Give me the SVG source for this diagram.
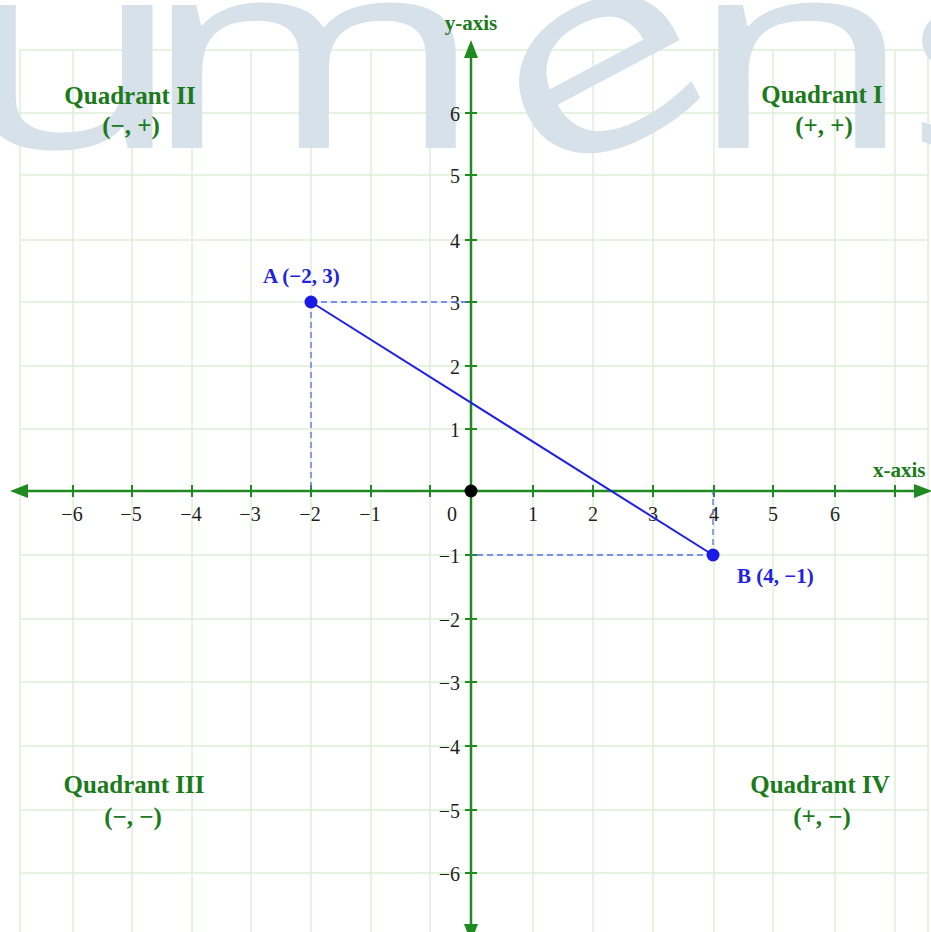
<svg xmlns="http://www.w3.org/2000/svg" width="931" height="932" viewBox="0 0 931 932">
<style>
.grid line{stroke:#dcefd6;stroke-width:1.5}
.wm{font-family:"Open Sans",sans-serif;font-weight:500;font-size:267px;fill:#d6e1ea;text-anchor:middle}
.axis{stroke:#1f8a1f;stroke-width:2.5;fill:none}
.tick{stroke:#1f8a1f;stroke-width:2}
.num{font-family:"Liberation Serif",serif;font-size:20px;fill:#1e1e1e}
.xn{text-anchor:middle}
.yn{text-anchor:end}
.quad{font-family:"Liberation Serif",serif;font-weight:bold;font-size:25px;fill:#1b7a1b;text-anchor:middle}
.axl{font-family:"Liberation Serif",serif;font-weight:bold;font-size:21px;fill:#1b7a1b}
.pt{fill:#1a1ae8}
.plab{font-family:"Liberation Serif",serif;font-weight:bold;font-size:21px;fill:#2222e0}
.seg{stroke:#1f1fe6;stroke-width:2;fill:none}
.dash{stroke:#5b6cf2;stroke-width:1.3;stroke-dasharray:6 4;fill:none}
</style>
<defs>
<marker id="arr" viewBox="0 0 18 14" refX="0" refY="7" markerWidth="18" markerHeight="14" markerUnits="userSpaceOnUse" orient="auto-start-reverse">
<path d="M0,0 L18,7 L0,14 Z" fill="#1f8a1f"/>
</marker>
</defs>
<rect width="931" height="932" fill="#ffffff"/>
<g id="grid" class="grid">
<line x1="20" y1="50" x2="20" y2="932"/>
<line x1="73" y1="50" x2="73" y2="932"/>
<line x1="132" y1="50" x2="132" y2="932"/>
<line x1="192" y1="50" x2="192" y2="932"/>
<line x1="251" y1="50" x2="251" y2="932"/>
<line x1="311" y1="50" x2="311" y2="932"/>
<line x1="371" y1="50" x2="371" y2="932"/>
<line x1="430" y1="50" x2="430" y2="932"/>
<line x1="533" y1="50" x2="533" y2="932"/>
<line x1="593" y1="50" x2="593" y2="932"/>
<line x1="653" y1="50" x2="653" y2="932"/>
<line x1="714" y1="50" x2="714" y2="932"/>
<line x1="773" y1="50" x2="773" y2="932"/>
<line x1="835" y1="50" x2="835" y2="932"/>
<line x1="895" y1="50" x2="895" y2="932"/>
<line x1="928" y1="50" x2="928" y2="932"/>
<line x1="20" y1="50" x2="928" y2="50"/>
<line x1="20" y1="113" x2="928" y2="113"/>
<line x1="20" y1="175" x2="928" y2="175"/>
<line x1="20" y1="240" x2="928" y2="240"/>
<line x1="20" y1="302" x2="928" y2="302"/>
<line x1="20" y1="366" x2="928" y2="366"/>
<line x1="20" y1="429" x2="928" y2="429"/>
<line x1="20" y1="555" x2="928" y2="555"/>
<line x1="20" y1="619" x2="928" y2="619"/>
<line x1="20" y1="682" x2="928" y2="682"/>
<line x1="20" y1="746" x2="928" y2="746"/>
<line x1="20" y1="810" x2="928" y2="810"/>
<line x1="20" y1="873" x2="928" y2="873"/>
</g>
<g id="watermark">
<text class="wm" transform="translate(70,148) scale(1.4,1)">u</text>
<text class="wm" transform="translate(313,148) scale(1.4,1)">m</text>
<text class="wm" transform="translate(602,148) rotate(-28,0,-72) scale(1.4,1)">e</text>
<text class="wm" transform="translate(801,148) scale(1.4,1)">n</text>
<text class="wm" transform="translate(992,148) scale(1.4,1)">s</text>
</g>
<g id="axes">
<line id="x-axis" class="axis" x1="28" y1="491" x2="914" y2="491" marker-start="url(#arr)" marker-end="url(#arr)"/>
<line id="y-axis" class="axis" x1="471" y1="924" x2="471" y2="58" marker-start="url(#arr)" marker-end="url(#arr)"/>
<text class="axl" x="471" y="30" text-anchor="middle">y-axis</text>
<text class="axl" x="873" y="477">x-axis</text>
</g>
<g id="ticks">
<g class="tick">
<line x1="73" y1="485" x2="73" y2="497"/>
<line x1="132" y1="485" x2="132" y2="497"/>
<line x1="192" y1="485" x2="192" y2="497"/>
<line x1="251" y1="485" x2="251" y2="497"/>
<line x1="311" y1="485" x2="311" y2="497"/>
<line x1="371" y1="485" x2="371" y2="497"/>
<line x1="430" y1="485" x2="430" y2="497"/>
<line x1="533" y1="485" x2="533" y2="497"/>
<line x1="593" y1="485" x2="593" y2="497"/>
<line x1="653" y1="485" x2="653" y2="497"/>
<line x1="714" y1="485" x2="714" y2="497"/>
<line x1="773" y1="485" x2="773" y2="497"/>
<line x1="835" y1="485" x2="835" y2="497"/>
<line x1="895" y1="485" x2="895" y2="497"/>
<line x1="465" y1="113" x2="477" y2="113"/>
<line x1="465" y1="175" x2="477" y2="175"/>
<line x1="465" y1="240" x2="477" y2="240"/>
<line x1="465" y1="302" x2="477" y2="302"/>
<line x1="465" y1="366" x2="477" y2="366"/>
<line x1="465" y1="429" x2="477" y2="429"/>
<line x1="465" y1="555" x2="477" y2="555"/>
<line x1="465" y1="619" x2="477" y2="619"/>
<line x1="465" y1="682" x2="477" y2="682"/>
<line x1="465" y1="746" x2="477" y2="746"/>
<line x1="465" y1="810" x2="477" y2="810"/>
<line x1="465" y1="873" x2="477" y2="873"/>
</g>
<g class="num xn">
<text x="72" y="521">−6</text>
<text x="131" y="521">−5</text>
<text x="191" y="521">−4</text>
<text x="250" y="521">−3</text>
<text x="310" y="521">−2</text>
<text x="370" y="521">−1</text>
<text x="452" y="521">0</text>
<text x="533" y="521">1</text>
<text x="593" y="521">2</text>
<text x="653" y="521">3</text>
<text x="714" y="521">4</text>
<text x="773" y="521">5</text>
<text x="835" y="521">6</text>
</g>
<g class="num yn">
<text x="460" y="121">6</text>
<text x="460" y="183">5</text>
<text x="460" y="248">4</text>
<text x="460" y="310">3</text>
<text x="460" y="374">2</text>
<text x="460" y="437">1</text>
<text x="460" y="563">−1</text>
<text x="460" y="627">−2</text>
<text x="460" y="690">−3</text>
<text x="460" y="754">−4</text>
<text x="460" y="818">−5</text>
<text x="460" y="881">−6</text>
</g>
</g>
<g id="quadrant-2"><text class="quad" x="130" y="104">Quadrant II</text><text class="quad" x="131" y="134">(−, +)</text></g>
<g id="quadrant-1"><text class="quad" x="822" y="103">Quadrant I</text><text class="quad" x="824" y="134">(+, +)</text></g>
<g id="quadrant-3"><text class="quad" x="134" y="793">Quadrant III</text><text class="quad" x="133" y="825">(−, −)</text></g>
<g id="quadrant-4"><text class="quad" x="820" y="793">Quadrant IV</text><text class="quad" x="822" y="825">(+, −)</text></g>
<g id="connectors">
<line class="dash" x1="311" y1="302" x2="471" y2="302"/>
<line class="dash" x1="311" y1="302" x2="311" y2="491"/>
<line class="dash" x1="713" y1="555" x2="471" y2="555"/>
<line class="dash" x1="713" y1="555" x2="713" y2="491"/>
<line id="segment-AB" class="seg" x1="311" y1="302" x2="713" y2="555"/>
</g>
<g id="origin"><circle cx="471" cy="491" r="6.5" fill="#000000"/></g>
<g id="point-A"><circle class="pt" cx="311" cy="302" r="6.5"/><text class="plab" x="263" y="283">A (−2, 3)</text></g>
<g id="point-B"><circle class="pt" cx="713" cy="555" r="6.5"/><text class="plab" x="737" y="583">B (4, −1)</text></g>
</svg>
